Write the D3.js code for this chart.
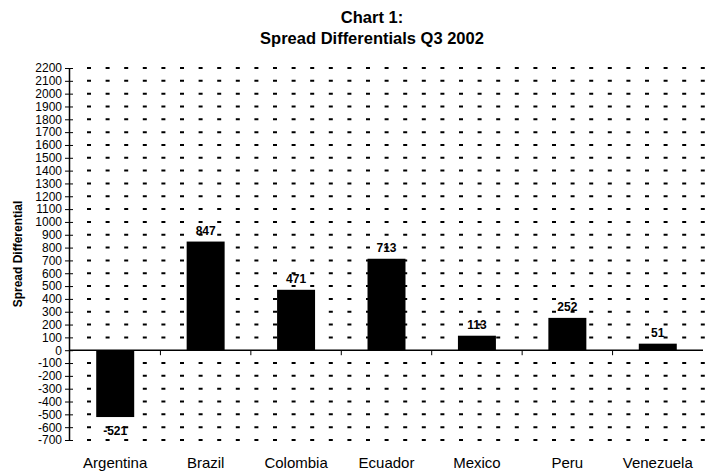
<!DOCTYPE html>
<html>
<head>
<meta charset="utf-8">
<script src="https://cdn.jsdelivr.net/npm/d3@7"></script>
<style>
  html, body { margin: 0; padding: 0; background: #fff; }
  svg { display: block; font-family: "Liberation Sans", Arial, sans-serif; }
</style>
</head>
<body>
<svg id="chart" width="710" height="472"></svg>
<script>
// Spread differentials by country, Q3 2002
const countries = ["Argentina", "Brazil", "Colombia", "Ecuador", "Mexico", "Peru", "Venezuela"];
const spreads = [-521, 847, 471, 713, 113, 252, 51];
const yTicks = d3.range(-700, 2201, 100);
const titleLines = ["Chart 1:", "Spread Differentials Q3 2002"];
const yTitle = "Spread Differential";

const svg = d3.select("#chart");
const margin = { left: 69, right: 7, top: 68, bottom: 32 };
const W = 710, H = 472;
const fmt = v => String(v); // plain hyphen for negatives, no thousands separator

const x = d3.scaleBand()
  .domain(countries)
  .range([margin.left + 1, W - margin.right])
  .paddingInner(0.58)
  .paddingOuter(0.29);

const y = d3.scaleLinear()
  .domain([-700, 2200])
  .range([440, 68]);

// Title
svg.append("g").selectAll("text")
  .data(titleLines)
  .join("text")
  .attr("x", 372)
  .attr("y", (d, i) => 23 + i * 21)
  .attr("text-anchor", "middle")
  .attr("font-size", 16.5)
  .attr("font-weight", "bold")
  .text(d => d);

// Dotted horizontal gridlines
svg.append("g").selectAll("line")
  .data(yTicks.filter(v => v !== 0))
  .join("line")
  .attr("x1", 87)
  .attr("x2", 706)
  .attr("y1", d => y(d))
  .attr("y2", d => y(d))
  .attr("stroke", "#000")
  .attr("stroke-width", 2)
  .attr("stroke-dasharray", "4 14.6");

// Bars
svg.append("g").selectAll("rect")
  .data(countries)
  .join("rect")
  .attr("x", d => x(d))
  .attr("width", x.bandwidth())
  .attr("y", (d, i) => y(Math.max(0, spreads[i])))
  .attr("height", (d, i) => Math.abs(y(spreads[i]) - y(0)))
  .attr("fill", "#000");

// Zero line with category separators
const xAxis = svg.append("g")
  .attr("transform", `translate(0,${y(0)})`)
  .call(d3.axisBottom(x).tickSize(0).tickFormat(""));
xAxis.select(".domain").attr("d", `M${margin.left},0H${W - margin.right}`).attr("stroke-width", 1.5);
const bounds = x.domain().slice(1).map(d => x(d) - x.step() * x.paddingInner() / 2);
xAxis.selectAll(".sep")
  .data(bounds)
  .join("line")
  .attr("class", "sep")
  .attr("x1", d => d).attr("x2", d => d)
  .attr("y1", 0).attr("y2", 5)
  .attr("stroke", "#000");

// Category labels
svg.append("g").selectAll("text")
  .data(countries)
  .join("text")
  .attr("x", d => x(d) + x.bandwidth() / 2)
  .attr("y", 468)
  .attr("text-anchor", "middle")
  .attr("font-size", 15)
  .text(d => d);

// Y axis with crossing ticks
const yAxis = svg.append("g")
  .attr("transform", `translate(${margin.left},0)`)
  .call(d3.axisLeft(y).tickValues(yTicks).tickFormat(fmt).tickSizeInner(4).tickSizeOuter(0).tickPadding(3));
yAxis.select(".domain").attr("stroke-width", 1.5);
yAxis.selectAll(".tick line").attr("x2", 4).attr("x1", -4);
yAxis.selectAll(".tick text")
  .attr("font-size", 12)
  .attr("font-family", "'Liberation Sans', Arial, sans-serif")
  .attr("fill", "#000");

// Y axis title
svg.append("text")
  .attr("transform", `translate(22,${(y(2200) + y(-700)) / 2}) rotate(-90)`)
  .attr("text-anchor", "middle")
  .attr("font-size", 12)
  .attr("font-weight", "bold")
  .text(yTitle);

// Value labels
svg.append("g").selectAll("text")
  .data(countries)
  .join("text")
  .attr("x", d => x(d) + x.bandwidth() / 2)
  .attr("y", (d, i) => spreads[i] >= 0 ? y(spreads[i]) - 7 : y(spreads[i]) + 18)
  .attr("text-anchor", "middle")
  .attr("font-size", 12)
  .attr("font-weight", "bold")
  .text((d, i) => fmt(spreads[i]));
</script>
</body>
</html>
